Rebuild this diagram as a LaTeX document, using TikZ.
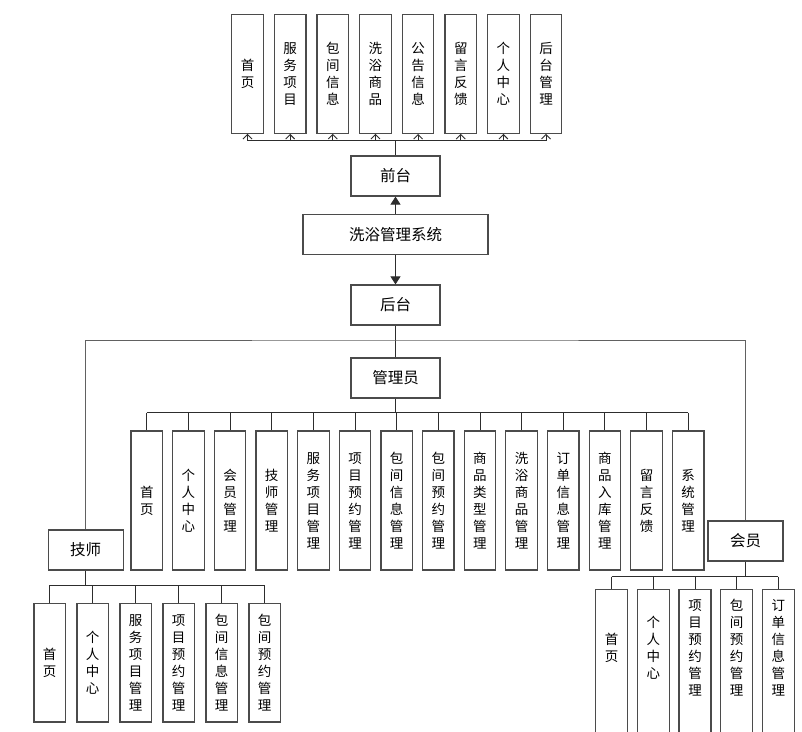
\documentclass[tikz,border=0pt]{standalone}
\usepackage{fontspec}
\setmainfont{Noto Sans CJK SC}
\usetikzlibrary{arrows.meta}
\definecolor{lc}{RGB}{45,45,45}
\definecolor{bc}{RGB}{75,75,75}
\begin{document}
\begin{tikzpicture}[x=1pt,y=-1pt,
  hbox/.style={draw=bc, line width=1.2pt, minimum width=89pt, minimum height=40pt, inner sep=0pt, font=\fontsize{15.5}{18}\selectfont},
  vbox/.style={draw=bc, line width=1.2pt, minimum width=31.5pt, inner sep=0pt, align=center, font=\fontsize{13.5}{17}\selectfont},
  vtext/.style={minimum width=31.5pt, inner sep=0pt, align=center, font=\fontsize{13.5}{17}\selectfont},
  boxline/.style={draw=bc, line width=1.2pt},
  conn/.style={draw=lc, line width=0.9pt},
  upar/.style={conn, -{Straight Barb[length=4.5pt,width=9pt]}},
  mainar/.style={conn, -{Triangle[length=8pt,width=10pt]}}]
\useasboundingbox (0,0) rectangle (802,731);
\clip (0,0) rectangle (802,731);
\fill[white] (0,0) rectangle (802,731);

% central column
\node[hbox] (qt) at (395.5,176) {前台};
\node[hbox, minimum width=185pt] (sys) at (395.5,234.3) {洗浴管理系统};
\node[hbox] (ht) at (395.5,305) {后台};
\node[hbox] (gly) at (395.5,378) {管理员};
\node[hbox, minimum width=75pt] (js) at (85.7,550) {技师};
\node[hbox, minimum width=75pt] (hy) at (745.5,541) {会员};

\draw[mainar] (sys.north) -- (qt.south);
\draw[mainar] (sys.south) -- (ht.north);
\draw[conn] (ht.south) -- (gly.north);
\coordinate (lp) at (415,340);
\draw[conn, draw=lc!75] (js.north) |- (lp) -| (hy.north);

% front-end modules
\foreach \t [count=\i] in {{首\\页},{服\\务\\项\\目},{包\\间\\信\\息},{洗\\浴\\商\\品},{公\\告\\信\\息},{留\\言\\反\\馈},{个\\人\\中\\心},{后\\台\\管\\理}}
  \node[vbox, minimum height=119pt] (t\i) at ({247.5+(\i-1)*42.65},73.8) {\t};
\coordinate (tb) at (395.5,140.5);
\draw[conn] (qt.north) -- (tb);
\draw[conn] (t1.south |- tb) -- (t8.south |- tb);
\foreach \i in {1,...,8}
  \draw[upar] (t\i.south |- tb) -- (t\i.south);

% admin modules
\foreach \t [count=\i] in {{首\\页},{个\\人\\中\\心},{会\\员\\管\\理},{技\\师\\管\\理},{服\\务\\项\\目\\管\\理},{项\\目\\预\\约\\管\\理},{包\\间\\信\\息\\管\\理},{包\\间\\预\\约\\管\\理},{商\\品\\类\\型\\管\\理},{洗\\浴\\商\\品\\管\\理},{订\\单\\信\\息\\管\\理},{商\\品\\入\\库\\管\\理},{留\\言\\反\\馈},{系\\统\\管\\理}}
  \node[vbox, minimum height=139pt] (a\i) at ({146.75+(\i-1)*41.65},500.5) {\t};
\coordinate (ab) at (395.5,412.7);
\draw[conn] (gly.south) -- (ab);
\draw[conn] (a1.north |- ab) -- (a14.north |- ab);
\foreach \i in {1,...,14}
  \draw[conn] (a\i.north |- ab) -- (a\i.north);

% technician modules
\foreach \t [count=\i] in {{首\\页},{个\\人\\中\\心},{服\\务\\项\\目\\管\\理},{项\\目\\预\\约\\管\\理},{包\\间\\信\\息\\管\\理},{包\\间\\预\\约\\管\\理}}
  \node[vbox, minimum height=118.7pt] (j\i) at ({49.7+(\i-1)*43},662.6) {\t};
\coordinate (jb) at (85.7,585);
\draw[conn] (js.south) -- (jb);
\draw[conn] (j1.north |- jb) -- (j6.north |- jb);
\foreach \i in {1,...,6}
  \draw[conn] (j\i.north |- jb) -- (j\i.north);

% member modules (cut by the lower edge)
\foreach \t [count=\i] in {{首\\页},{个\\人\\中\\心},{项\\目\\预\\约\\管\\理},{包\\间\\预\\约\\管\\理},{订\\单\\信\\息\\管\\理}}
  \node[vtext, minimum height=117.4pt] (m\i) at ({611.7+(\i-1)*41.65},648) {\t};
\foreach \i in {1,...,5}
  \draw[boxline] (m\i.south west) ++(0,40) -- (m\i.north west) -- (m\i.north east) -- ++(0,160);
\coordinate (mb) at (745.5,576.7);
\draw[conn] (hy.south) -- (mb);
\draw[conn] (m1.north |- mb) -- (m5.north |- mb);
\foreach \i in {1,...,5}
  \draw[conn] (m\i.north |- mb) -- (m\i.north);
\end{tikzpicture}
\end{document}
